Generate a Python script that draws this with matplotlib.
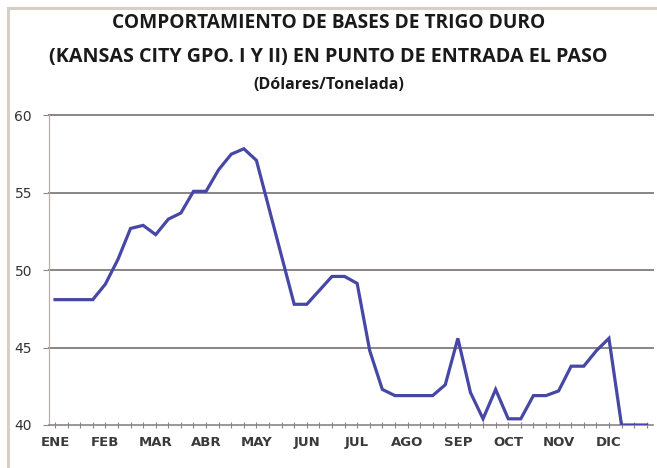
import matplotlib
matplotlib.use("Agg")
import matplotlib.pyplot as plt
from matplotlib.patches import Rectangle

# Weekly base values (USD/ton), 48 weeks
values = [48.1, 48.1, 48.1, 48.1, 49.1, 50.7, 52.7, 52.9, 52.3, 53.3,
          53.7, 55.1, 55.1, 56.5, 57.5, 57.85, 57.1, 54.0, 50.9, 47.8,
          47.8, 48.7, 49.6, 49.6, 49.15, 44.8, 42.3, 41.9, 41.9, 41.9,
          41.9, 42.6, 45.6, 42.1, 40.4, 42.3, 40.4, 40.4, 41.9, 41.9,
          42.2, 43.8, 43.8, 44.8, 45.6, 40.0, 40.0, 40.0]
months = ["ENE", "FEB", "MAR", "ABR", "MAY", "JUN",
          "JUL", "AGO", "SEP", "OCT", "NOV", "DIC"]
yticks = [40, 45, 50, 55, 60]

title1 = "COMPORTAMIENTO DE BASES DE TRIGO DURO"
title2 = "(KANSAS CITY GPO. I Y II) EN PUNTO DE ENTRADA EL PASO"
title3 = "(Dólares/Tonelada)"

fig = plt.figure(figsize=(6.57, 4.68), dpi=100)
fig.patch.set_facecolor("white")

# frame (left and top visible)
fig.add_artist(Rectangle((8 / 657, -0.05), 1.2, (468 - 8) / 468 + 0.05,
                         transform=fig.transFigure, fill=False,
                         edgecolor="#d6cfc3", linewidth=2.2))

ax = fig.add_axes([48.7 / 657, (468 - 425) / 468, (653 - 48.7) / 657, (425 - 115.5) / 468])
x = list(range(len(values)))
ax.plot(x, values, color="#4747a6", linewidth=2.3, solid_joinstyle="miter", zorder=3)

ax.set_xlim(-0.5, len(values) - 0.5)
ax.set_ylim(40, 60)
ax.set_yticks(yticks)
ax.set_yticklabels([str(v) for v in yticks], fontsize=10, color="#333333",
                   fontfamily="DejaVu Sans")
for v in yticks[1:]:
    ax.axhline(v, color="#8a8585", linewidth=1.4, zorder=1, clip_on=False)

ax.set_xticks(x, minor=True)
ax.set_xticks([4 * i for i in range(len(months))])
ax.set_xticklabels(months, fontsize=9.5, fontweight="bold", color="#3a3a3a",
                   fontfamily="DejaVu Sans")
ax.tick_params(axis="x", which="both", direction="inout", length=4, width=0.8,
               color="#8a8585", pad=6)
ax.tick_params(axis="y", length=4, width=0.8, color="#8a8585", pad=8)

for s in ["top", "right"]:
    ax.spines[s].set_visible(False)
ax.spines["left"].set_color("#b8b0a8")
ax.spines["left"].set_linewidth(0.9)
ax.spines["bottom"].set_color("#8a8585")
ax.spines["bottom"].set_linewidth(1.2)

fig.text(0.5, 1 - 23 / 468, title1, ha="center", va="center", fontsize=13.8,
         fontweight="bold", fontfamily="Open Sans", color="#1a1a1a")
fig.text(0.5, 1 - 57 / 468, title2, ha="center", va="center", fontsize=14.2,
         fontweight="bold", fontfamily="Open Sans", color="#1a1a1a")
fig.text(0.5, 1 - 85 / 468, title3, ha="center", va="center", fontsize=11.5,
         fontweight="bold", fontfamily="Open Sans", color="#1a1a1a")

fig.savefig("out.png", dpi=100)
